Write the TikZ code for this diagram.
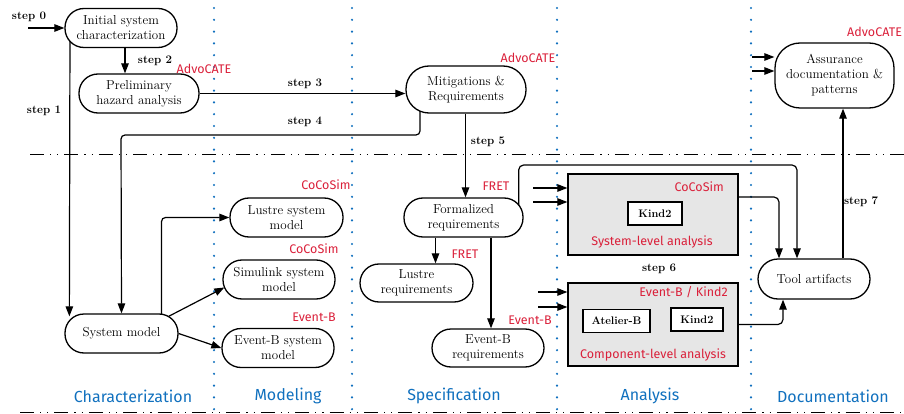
\documentclass[tikz,border=0pt]{standalone}
\usepackage{fontspec}
\newfontfamily\toolfont{Fira Sans}
\usetikzlibrary{arrows.meta,calc,backgrounds}
\definecolor{toolred}{RGB}{218,32,58}
\definecolor{laneblue}{RGB}{16,112,190}
\definecolor{boxgray}{RGB}{230,230,230}
\begin{document}
\begin{tikzpicture}[x=1pt,y=-1pt,
  every node/.style={inner sep=0pt},
  proc/.style={draw, line width=1.3pt, fill=white, rounded corners=19pt,
    minimum height=39pt, minimum width=112pt, align=center,
    font=\fontsize{13}{15}\selectfont},
  arr/.style={line width=1.2pt, -{Triangle[length=10pt,width=7.5pt]}},
  steplbl/.style={font=\bfseries\fontsize{11.5}{13}\selectfont},
  toollbl/.style={text=toolred, font=\toolfont\fontsize{12.5}{14}\selectfont},
  lanelbl/.style={text=laneblue, font=\toolfont\fontsize{16}{18}\selectfont},
  anbox/.style={draw, line width=1.3pt, fill=boxgray, minimum width=170pt, minimum height=81pt},
  engine/.style={draw, line width=1.1pt, fill=white, font=\bfseries\fontsize{11}{13}\selectfont, minimum height=23pt},
  lanesep/.style={laneblue, line width=2.4pt, line cap=round, dash pattern=on 0pt off 11.8pt},
  phasesep/.style={line width=0.9pt, dash pattern=on 14pt off 6pt on 1.2pt off 6pt on 1.2pt off 6pt}]
\useasboundingbox (0,0) rectangle (904,414);

% process nodes
\node[proc] (init) at (121,28) {Initial system\\characterization};
\node[proc, minimum width=120pt] (pha) at (139,93.5) {Preliminary\\hazard analysis};
\node[proc, minimum width=120pt, minimum height=47pt, rounded corners=23pt] (mit) at (466,89.5) {Mitigations \&\\Requirements};
\node[proc, minimum width=119pt, minimum height=65pt, rounded corners=25pt] (assur) at (834.5,75.5) {Assurance\\documentation \&\\patterns};
\node[proc, minimum width=119pt] (freq) at (463.5,217.5) {Formalized\\requirements};
\node[proc, minimum width=113pt, minimum height=38pt] (lreq) at (416.5,283) {Lustre\\requirements};
\node[proc, minimum height=38pt] (ereq) at (488,348) {Event-B\\requirements};
\node[proc, minimum width=113pt] (lsm) at (286.5,217.5) {Lustre system\\model};
\node[proc] (ssm) at (279,279.5) {Simulink system\\model};
\node[proc] (esm) at (278,348) {Event-B system\\model};
\node[proc, minimum width=113pt] (sm) at (121.5,333.5) {System model};
\node[proc, minimum height=40pt, rounded corners=20pt] (tool) at (814,279) {Tool artifacts};

% analysis boxes
\node[anbox] (sla) at (653,214.5) {};
\node[anbox, minimum height=83pt] (cla) at (653,324.5) {};
\node[engine, minimum width=54pt] (k1) at (655,213.5) {Kind2};
\node[engine, minimum width=67pt] (ab) at (616.5,321) {Atelier-B};
\node[engine, minimum width=52pt] (k2) at (697,319.5) {Kind2};

% tool labels
\node[toollbl] (t1) at (204,69) {AdvoCATE};
\node[toollbl] (t2) at (528,58) {AdvoCATE};
\node[toollbl, anchor=west] (t3) at (847,32) {AdvoCATE};
\node[toollbl] (t4) at (326,185) {CoCoSim};
\node[toollbl] (t5) at (314,249) {CoCoSim};
\node[toollbl] (t6) at (314,317) {Event-B};
\node[toollbl] (t7) at (496,186) {FRET};
\node[toollbl] (t8) at (465,254) {FRET};
\node[toollbl] (t9) at (530,320) {Event-B};
\node[toollbl, anchor=east] (t10) at (724,187) {CoCoSim};
\node[toollbl] (t11) at (652,242) {System-level analysis};
\node[toollbl, anchor=east] (t12) at (728,292) {Event-B / Kind2};
\node[toollbl] (t13) at (653,355) {Component-level analysis};

% step labels
\node[steplbl] (l0) at (29,17) {step 0};
\node[steplbl] (l1) at (44,111) {step 1};
\node[steplbl] (l2) at (155,61) {step 2};
\node[steplbl] (l3) at (305,84) {step 3};
\node[steplbl] (l4) at (305,122) {step 4};
\node[steplbl] (l5) at (488,142) {step 5};
\node[steplbl] (l6) at (659,269) {step 6};
\node[steplbl] (l7) at (861,202) {step 7};

% lane labels
\node[lanelbl] (c1) at (133,396) {Characterization};
\node[lanelbl] (c2) at (288,396) {Modeling};
\node[lanelbl] (c3) at (454,396) {Specification};
\node[lanelbl] (c4) at (650,396) {Analysis};
\node[lanelbl] (c5) at (833,396) {Documentation};

% free ends
\coordinate (s0) at (28,28);
\coordinate (s4) at (121,135);
\coordinate (bus) at (797,165);
\coordinate (a1) at (752,57);
\coordinate (a2) at (752,71);
\coordinate (b1) at (533,188);
\coordinate (b2) at (533,202);
\coordinate (b3) at (538,292);
\coordinate (b4) at (538,307);

\begin{scope}[on background layer]
  % separators
  \foreach \xx in {214,352,557,751}
    \draw[lanesep] (\xx,8) -- (\xx,414);
  \draw[phasesep] (30,154) -- (904,154);
  \draw[phasesep] (20,412.3) -- (904,412.3);

  % connectors
  \draw[arr] (s0) -- (init.west);
  \draw[arr] ([xshift=4pt]init.south) -- ([xshift=4pt]init.south |- pha.north);
  \draw[arr] ($(init.center)+(-51,0)$) -- ($(sm.north west)+(5,3)$);
  \draw[arr] (pha.east) -- (pha.east -| mit.west);
  \draw[arr, rounded corners=4pt] ($(mit.center)+(-46,0)$) |- (s4) -- (sm.north);
  \draw[arr] ([xshift=-0.5pt]mit.south) -- ([xshift=-0.5pt]mit.south |- freq.north);
  \draw[arr] ([xshift=-28pt]freq.south) -- ([xshift=-28pt]freq.south |- lreq.north);
  \draw[arr] ([xshift=27.5pt]freq.south) -- ([xshift=27.5pt]freq.south |- ereq.north);
  \draw[arr, rounded corners=4pt] ($(sm.center)+(40,0)$) |- (lsm.west);
  \draw[arr] ($(sm.north east)+(-10,3)$) -- ($(ssm.west)+(2,8)$);
  \draw[arr] (sm.east) -- (esm.west);
  \draw[arr, rounded corners=5pt] ($(freq.east)+(-5,0)$) |- (bus) -- ([xshift=-17pt]tool.north);
  \draw[arr, rounded corners=5pt] ([yshift=17.5pt,xshift=-3pt]sla.east) -| ([xshift=-35pt]tool.north);
  \draw[arr, rounded corners=5pt] (cla.east) -| ([xshift=-31pt]tool.south);
  \draw[arr] ([xshift=29pt]tool.north) -- ([xshift=29pt]tool.north |- assur.south);
  \draw[arr] (a1) -- (a1 -| assur.west);
  \draw[arr] (a2) -- (a2 -| assur.west);
  \draw[arr] (b1) -- (b1 -| sla.west);
  \draw[arr] (b2) -- (b2 -| sla.west);
  \draw[arr] (b3) -- (b3 -| cla.west);
  \draw[arr] (b4) -- (b4 -| cla.west);
\end{scope}
\end{tikzpicture}
\end{document}
